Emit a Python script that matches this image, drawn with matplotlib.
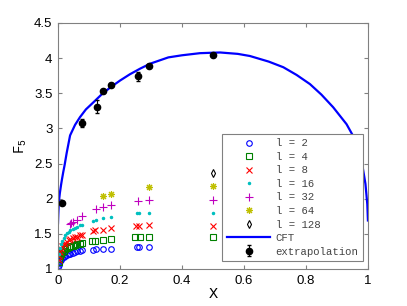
import matplotlib
matplotlib.use('Agg')
import matplotlib.pyplot as plt

plt.rcParams['mathtext.fontset'] = 'custom'
plt.rcParams['mathtext.rm'] = 'Liberation Mono'
plt.rcParams['mathtext.it'] = 'Liberation Mono'

# values
x_dense = [0.002, 0.004, 0.007, 0.010, 0.014, 0.018, 0.023, 0.028, 0.034, 0.040,
           0.047, 0.054, 0.062, 0.070, 0.078]

x_l2 = [0.001] + x_dense + [0.114, 0.123, 0.146, 0.171, 0.254, 0.260, 0.294]
f_l2 = [1.03, 1.05, 1.08, 1.11, 1.13, 1.15, 1.17, 1.19, 1.20, 1.21, 1.22, 1.23, 1.24, 1.25, 1.26, 1.27,
        1.27, 1.28, 1.29, 1.29, 1.31, 1.31, 1.31]

x_l4 = x_dense + [0.111, 0.119, 0.146, 0.171, 0.249, 0.264, 0.294, 0.5]
f_l4 = [1.10, 1.14, 1.18, 1.21, 1.24, 1.26, 1.28, 1.30, 1.31, 1.32, 1.33, 1.34, 1.35, 1.36, 1.37,
        1.40, 1.40, 1.41, 1.42, 1.46, 1.46, 1.46, 1.45]

x_l8 = x_dense + [0.112, 0.121, 0.146, 0.171, 0.251, 0.260, 0.294, 0.5]
f_l8 = [1.13, 1.19, 1.24, 1.28, 1.32, 1.35, 1.37, 1.39, 1.41, 1.42, 1.44, 1.45, 1.46, 1.48, 1.49,
        1.54, 1.55, 1.56, 1.58, 1.61, 1.61, 1.62, 1.61]

x_l16 = x_dense[1:] + [0.114, 0.123, 0.146, 0.171, 0.254, 0.260, 0.294, 0.5]
f_l16 = [1.22, 1.30, 1.35, 1.40, 1.44, 1.48, 1.51, 1.53, 1.55, 1.57, 1.58, 1.60, 1.62, 1.63,
         1.68, 1.69, 1.72, 1.74, 1.79, 1.79, 1.80, 1.80]

x_l32 = [0.038, 0.043, 0.049, 0.060, 0.076, 0.123, 0.146, 0.171, 0.259, 0.294, 0.5]
f_l32 = [1.64, 1.66, 1.67, 1.70, 1.76, 1.85, 1.88, 1.91, 1.96, 1.98, 1.98]

x_l64 = [0.146, 0.171, 0.294, 0.5]
f_l64 = [2.04, 2.07, 2.17, 2.18]

x_l128 = [0.5]
f_l128 = [2.36]

x_cft = [0.0, 0.001, 0.002, 0.004, 0.006, 0.010, 0.013, 0.017, 0.021, 0.028, 0.039, 0.055,
         0.071, 0.09, 0.114, 0.14, 0.168, 0.2, 0.232, 0.265, 0.297, 0.356, 0.4, 0.458,
         0.523, 0.58, 0.619, 0.68, 0.727, 0.77, 0.813, 0.85, 0.888, 0.931, 0.955, 0.977,
         0.992, 0.998, 1.0]
f_cft = [1.65, 1.78, 1.88, 2.0, 2.08, 2.2, 2.28, 2.38, 2.47, 2.65, 2.9, 3.05,
         3.16, 3.27, 3.37, 3.48, 3.58, 3.68, 3.77, 3.85, 3.92, 4.01, 4.04, 4.07,
         4.08, 4.06, 4.03, 3.95, 3.87, 3.76, 3.63, 3.48, 3.30, 3.06, 2.87, 2.61,
         2.21, 1.92, 1.69]

x_ext = [0.012, 0.076, 0.125, 0.146, 0.171, 0.259, 0.294, 0.5]
f_ext = [1.94, 3.08, 3.31, 3.53, 3.62, 3.74, 3.89, 4.05]
err_ext = [0.02, 0.06, 0.09, 0.02, 0.02, 0.06, 0.02, 0.02]

fig = plt.figure(figsize=(4.07, 3.06), dpi=100)
ax = fig.add_axes([0.1425, 0.121, 0.7615, 0.804])

ax.plot(x_l2, f_l2, 'o', mfc='none', mec='blue', ms=4, mew=0.8, label='l = 2')
ax.plot(x_l4, f_l4, 's', mfc='none', mec=(0, 0.5, 0), ms=4, mew=0.8, label='l = 4')
ax.plot(x_l8, f_l8, 'x', color='red', ms=4, mew=0.8, label='l = 8')
ax.plot(x_l16, f_l16, '.', color=(0, 0.75, 0.75), ms=3, label='l = 16')
ax.plot(x_l32, f_l32, '+', color=(0.75, 0, 0.75), ms=6, mew=0.8, label='l = 32')
ax.plot(x_l64, f_l64, marker=(8, 2, 0), ls='none', color=(0.75, 0.75, 0), ms=5, mew=0.8, label='l = 64')
ax.plot(x_l128, f_l128, 'd', mfc='none', mec='black', ms=4, mew=0.8, label='l = 128')
ax.plot(x_cft, f_cft, '-', color='blue', lw=1.6, label='CFT')
ax.errorbar(x_ext, f_ext, yerr=err_ext, fmt='o', color='black', ms=4.5,
            elinewidth=0.8, capsize=1.5, label='extrapolation')

ax.set_xlim(0, 1)
ax.set_ylim(1, 4.5)
ax.set_xticks([0, 0.2, 0.4, 0.6, 0.8, 1])
ax.set_xticklabels(['0', '0.2', '0.4', '0.6', '0.8', '1'])
ax.set_yticks([1, 1.5, 2, 2.5, 3, 3.5, 4, 4.5])
ax.set_yticklabels(['1', '1.5', '2', '2.5', '3', '3.5', '4', '4.5'])
ax.tick_params(direction='in', length=3, top=True, right=True, color='#808080',
               labelsize=9.5, pad=4)
for lab in ax.get_xticklabels() + ax.get_yticklabels():
    lab.set_family('Liberation Sans')
for s in ax.spines.values():
    s.set_color('#808080')

ax.set_xlabel('X', family='Liberation Mono', fontsize=11)
ax.set_ylabel('F$_5$', family='Liberation Mono', fontsize=10)
ax.xaxis.set_label_coords(0.5, -0.075)
ax.yaxis.set_label_coords(-0.095, 0.5)

leg = ax.legend(loc='lower right', bbox_to_anchor=(0.983, 0.033), borderaxespad=0,
                prop={'family': 'Liberation Mono', 'size': 7.7}, fancybox=False,
                framealpha=1, edgecolor='#808080', handlelength=4.1, handletextpad=0.47,
                labelspacing=0.33, borderpad=0.4, numpoints=1)
leg.get_frame().set_linewidth(0.8)
for t in leg.get_texts():
    t.set_color('#444444')

fig.savefig('out.png', dpi=100)
